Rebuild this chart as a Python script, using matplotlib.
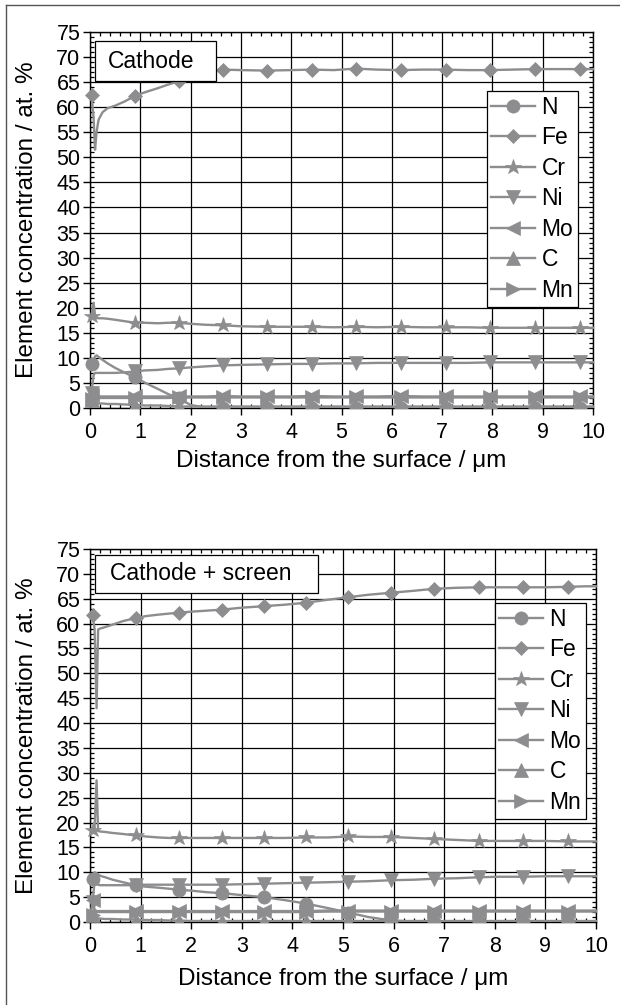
import numpy as np
import matplotlib
matplotlib.use("Agg")
import matplotlib.pyplot as plt
from matplotlib.lines import Line2D
from matplotlib.patches import Rectangle
from matplotlib.ticker import MultipleLocator

plt.rcParams['font.family'] = ['Liberation Sans', 'DejaVu Sans']

# ---------------- data: panel 1 (Cathode) ----------------
x_top = [0.0, 0.03, 0.07, 0.1, 0.13, 0.17, 0.25, 0.35, 0.5, 0.7, 0.9, 1.1, 1.35, 1.55,
         1.77, 2.0, 2.3, 2.64, 3.0, 3.52, 4.0, 4.41, 4.85, 5.29, 5.7, 6.18, 6.6, 7.07,
         7.5, 7.95, 8.4, 8.85, 9.3, 9.74, 10.0]
marks_top = [0.03, 0.9, 1.77, 2.64, 3.52, 4.41, 5.29, 6.18, 7.07, 7.95, 8.85, 9.74]

N_top = [8.5, 8.8, 9.5, 10.3, 10.5, 10.2, 9.6, 8.9, 8.0, 7.0, 6.1, 5.0, 3.8, 2.8,
         1.9, 0.6, 0.1, 0.0, 0.0, 0.0, 0.0, 0.0, 0.0, 0.0, 0.0, 0.0, 0.0, 0.0,
         0.0, 0.0, 0.0, 0.0, 0.0, 0.0, 0.0]
Fe_top = [62.5, 62.5, 58.0, 51.5, 55.0, 57.5, 59.0, 59.8, 60.3, 61.2, 62.3, 63.0, 63.8, 64.5,
          65.2, 66.0, 66.8, 67.5, 67.4, 67.3, 67.4, 67.5, 67.4, 67.7, 67.5, 67.4, 67.5, 67.5,
          67.4, 67.4, 67.5, 67.6, 67.6, 67.6, 67.6]
Cr_top = [18.0, 18.4, 21.0, 18.5, 18.0, 17.9, 17.9, 17.8, 17.6, 17.3, 17.0, 17.0, 16.9, 17.0,
          17.0, 16.8, 16.6, 16.5, 16.3, 16.2, 16.2, 16.2, 16.1, 16.2, 16.1, 16.2, 16.1, 16.1,
          16.1, 16.0, 16.0, 16.0, 16.0, 16.0, 16.0]
Ni_top = [0.5, 3.0, 6.5, 7.0, 7.0, 7.0, 7.0, 7.0, 7.0, 7.1, 7.3, 7.5, 7.6, 7.8,
          7.9, 8.1, 8.3, 8.5, 8.6, 8.7, 8.8, 8.8, 8.9, 8.9, 9.0, 9.0, 9.0, 9.0,
          9.0, 9.1, 9.1, 9.1, 9.1, 9.1, 9.1]
Mo_top = [3.0, 2.6, 2.2, 2.2, 2.3, 2.3, 2.3, 2.3, 2.3, 2.3, 2.3, 2.3, 2.3, 2.3,
          2.3, 2.3, 2.3, 2.4, 2.3, 2.3, 2.3, 2.4, 2.3, 2.3, 2.3, 2.4, 2.3, 2.3,
          2.3, 2.3, 2.3, 2.3, 2.3, 2.3, 2.3]
C_top = [2.5, 1.5, 1.2, 1.0, 1.0, 0.9, 0.9, 0.8, 0.8, 0.7, 0.6, 0.5, 0.5, 0.4,
         0.3, 0.3, 0.3, 0.3, 0.3, 0.3, 0.3, 0.3, 0.3, 0.3, 0.3, 0.3, 0.3, 0.3,
         0.3, 0.3, 0.3, 0.3, 0.3, 0.3, 0.3]
Mn_top = [1.5, 1.8, 2.0, 2.0, 2.0, 2.0, 2.0, 2.0, 2.0, 2.0, 2.0, 2.0, 2.0, 2.0,
          2.1, 2.1, 2.1, 2.1, 2.1, 2.1, 2.1, 2.1, 2.1, 2.1, 2.1, 2.1, 2.1, 2.1,
          2.1, 2.1, 2.1, 2.1, 2.1, 2.1, 2.1]

# ---------------- data: panel 2 (Cathode + screen) ----------------
x_bot = [0.0, 0.05, 0.09, 0.13, 0.16, 0.2, 0.3, 0.45, 0.65, 0.9, 1.1, 1.35, 1.55, 1.76,
         2.0, 2.3, 2.6, 3.0, 3.43, 3.85, 4.27, 4.7, 5.1, 5.5, 5.95, 6.4, 6.8, 7.25,
         7.69, 8.1, 8.56, 9.0, 9.45, 9.8, 10.0]
marks_bot = [0.05, 0.9, 1.76, 2.6, 3.43, 4.27, 5.1, 5.95, 6.8, 7.69, 8.56, 9.45]

N_bot = [8.5, 8.7, 10.0, 9.8, 9.6, 9.3, 9.0, 8.5, 8.0, 7.4, 7.1, 6.9, 6.7, 6.5,
         6.3, 6.0, 5.8, 5.4, 5.0, 4.4, 3.7, 2.8, 1.9, 1.0, 0.3, 0.1, 0.0, 0.0,
         0.0, 0.0, 0.0, 0.0, 0.0, 0.0, 0.0]
Fe_bot = [61.7, 61.7, 59.0, 43.0, 58.8, 59.0, 59.3, 59.8, 60.5, 61.1, 61.5, 61.8, 62.0, 62.2,
          62.4, 62.6, 62.8, 63.2, 63.5, 63.8, 64.2, 64.8, 65.3, 65.8, 66.2, 66.6, 67.0, 67.2,
          67.3, 67.3, 67.3, 67.3, 67.4, 67.5, 67.5]
Cr_bot = [18.5, 18.5, 19.0, 28.5, 18.3, 18.2, 18.1, 17.9, 17.7, 17.4, 17.2, 17.0, 16.9, 16.9,
          16.9, 16.9, 16.9, 16.9, 16.9, 16.9, 17.0, 17.0, 17.2, 17.1, 17.1, 16.9, 16.7, 16.5,
          16.3, 16.3, 16.3, 16.3, 16.2, 16.2, 16.2]
Ni_bot = [1.0, 4.0, 8.0, 7.6, 7.5, 7.4, 7.4, 7.4, 7.4, 7.4, 7.5, 7.5, 7.5, 7.5,
          7.5, 7.5, 7.5, 7.6, 7.7, 7.8, 7.9, 8.0, 8.1, 8.2, 8.4, 8.5, 8.7, 8.8,
          9.0, 9.1, 9.1, 9.2, 9.2, 9.2, 9.2]
Mo_bot = [4.5, 4.5, 2.5, 2.2, 2.2, 2.2, 2.2, 2.2, 2.2, 2.2, 2.2, 2.2, 2.2, 2.2,
          2.2, 2.2, 2.2, 2.2, 2.2, 2.2, 2.2, 2.3, 2.3, 2.3, 2.3, 2.3, 2.3, 2.3,
          2.3, 2.3, 2.3, 2.3, 2.3, 2.3, 2.3]
C_bot = [2.0, 1.5, 1.0, 0.8, 0.7, 0.7, 0.6, 0.6, 0.5, 0.5, 0.4, 0.4, 0.3, 0.3,
         0.2, 0.2, 0.2, 0.2, 0.2, 0.2, 0.2, 0.2, 0.2, 0.2, 0.2, 0.2, 0.2, 0.2,
         0.2, 0.2, 0.2, 0.2, 0.2, 0.2, 0.2]
Mn_bot = [1.0, 1.5, 1.9, 2.0, 2.0, 2.0, 2.0, 2.0, 2.0, 2.0, 2.0, 2.0, 2.0, 2.0,
          2.0, 2.0, 2.0, 2.0, 2.0, 2.0, 2.0, 2.1, 2.1, 2.1, 2.1, 2.1, 2.1, 2.1,
          2.1, 2.1, 2.1, 2.1, 2.1, 2.1, 2.1]

elements = ['N', 'Fe', 'Cr', 'Ni', 'Mo', 'C', 'Mn']
panel_titles = ['Cathode', 'Cathode + screen']
x_ticks = list(range(0, 11))
y_ticks = list(range(0, 80, 5))
xlabel = 'Distance from the surface / μm'
ylabel = 'Element concentration / at. %'

# ---------------- styling ----------------
GRAY = '#8d8d8f'
markers = {'N': ('o', 9.5), 'Fe': ('D', 6.8), 'Cr': ('*', 11.5), 'Ni': ('v', 10),
           'Mo': ('<', 10), 'C': ('^', 10), 'Mn': ('>', 10)}

fig = plt.figure(figsize=(6.2, 10.05), dpi=100)

# outer frame (top and left edges visible)
fig.add_artist(Line2D([6 / 620, 1.0], [1 - 5 / 1005, 1 - 5 / 1005], color='#555555', lw=1.0))
fig.add_artist(Line2D([6 / 620, 6 / 620], [0.0, 1 - 5 / 1005], color='#555555', lw=1.0))

panels = [
    dict(rect=[90 / 620, 1 - 408 / 1005, 503 / 620, 376 / 1005], x=x_top, marks=marks_top,
         data=[N_top, Fe_top, Cr_top, Ni_top, Mo_top, C_top, Mn_top],
         box=(95, 41, 216, 81), text_x=108, leg_anchor=(0.970, 0.843), xpad=5),
    dict(rect=[90 / 620, 1 - 922 / 1005, 506 / 620, 373 / 1005], x=x_bot, marks=marks_bot,
         data=[N_bot, Fe_bot, Cr_bot, Ni_bot, Mo_bot, C_bot, Mn_bot],
         box=(95, 555, 318, 593), text_x=110, leg_anchor=(0.980, 0.855), xpad=8),
]

for p, title in zip(panels, panel_titles):
    ax = fig.add_axes(p['rect'])
    ax.set_xlim(0, 10)
    ax.set_ylim(0, 75)
    ax.set_xticks(x_ticks)
    ax.set_yticks(y_ticks)
    ax.xaxis.set_minor_locator(MultipleLocator(0.2))
    ax.yaxis.set_minor_locator(MultipleLocator(1))
    ax.grid(True, which='major', color='black', lw=0.9)
    ax.set_axisbelow(True)
    for s in ax.spines.values():
        s.set_color('black')
        s.set_linewidth(1.0)
    ax.tick_params(which='major', direction='out', length=5, width=1.0,
                   labelsize=15.5, top=False, right=False)
    ax.tick_params(axis='x', which='major', pad=5)
    ax.tick_params(axis='y', which='major', pad=2)
    ax.tick_params(which='minor', direction='in', length=3, width=0.9,
                   top=True, right=True)

    clip = Rectangle((-0.05, 0.0), 1.1, 1.1, transform=ax.transAxes)
    xs = p['x']
    idx = [xs.index(m) for m in p['marks']]
    for el, ys in zip(elements, p['data']):
        mk, ms = markers[el]
        ln, = ax.plot(xs, ys, color=GRAY, lw=1.7, marker=mk, ms=ms, markevery=idx,
                      markerfacecolor=GRAY, markeredgecolor=GRAY, markeredgewidth=0.5,
                      label=el, zorder=3)
        ln.set_clip_path(clip)

    ax.set_xlabel(xlabel, fontsize=17.5, labelpad=p['xpad'])
    ax.set_ylabel(ylabel, fontsize=17.5)
    ax.yaxis.set_label_coords(-(90 - 38) / (p['rect'][2] * 620), 0.5)

    # title box
    x0, y0, x1, y1 = p['box']
    w = p['rect'][2] * 620
    h = p['rect'][3] * 1005
    ytop_px = 1005 * (1 - p['rect'][1] - p['rect'][3])
    bx = (x0 - 90) / w
    by = 1 - (y1 - ytop_px) / h
    bw = (x1 - x0) / w
    bh = (y1 - y0) / h
    ax.add_patch(Rectangle((bx, by), bw, bh, transform=ax.transAxes, facecolor='white',
                           edgecolor='black', lw=0.9, zorder=5))
    ax.text((p['text_x'] - 90) / w, by + bh / 2, title, transform=ax.transAxes,
            ha='left', va='center', fontsize=16.5, zorder=6)

    leg = ax.legend(loc='upper right', bbox_to_anchor=p['leg_anchor'], fontsize=16.5,
                    frameon=True, fancybox=False, edgecolor='black', framealpha=1,
                    borderaxespad=0, handlelength=1.9, handletextpad=0.3,
                    labelspacing=0.33, borderpad=0.2)
    leg.get_frame().set_linewidth(0.9)
    leg.set_zorder(7)

fig.savefig('out.png', dpi=100)
